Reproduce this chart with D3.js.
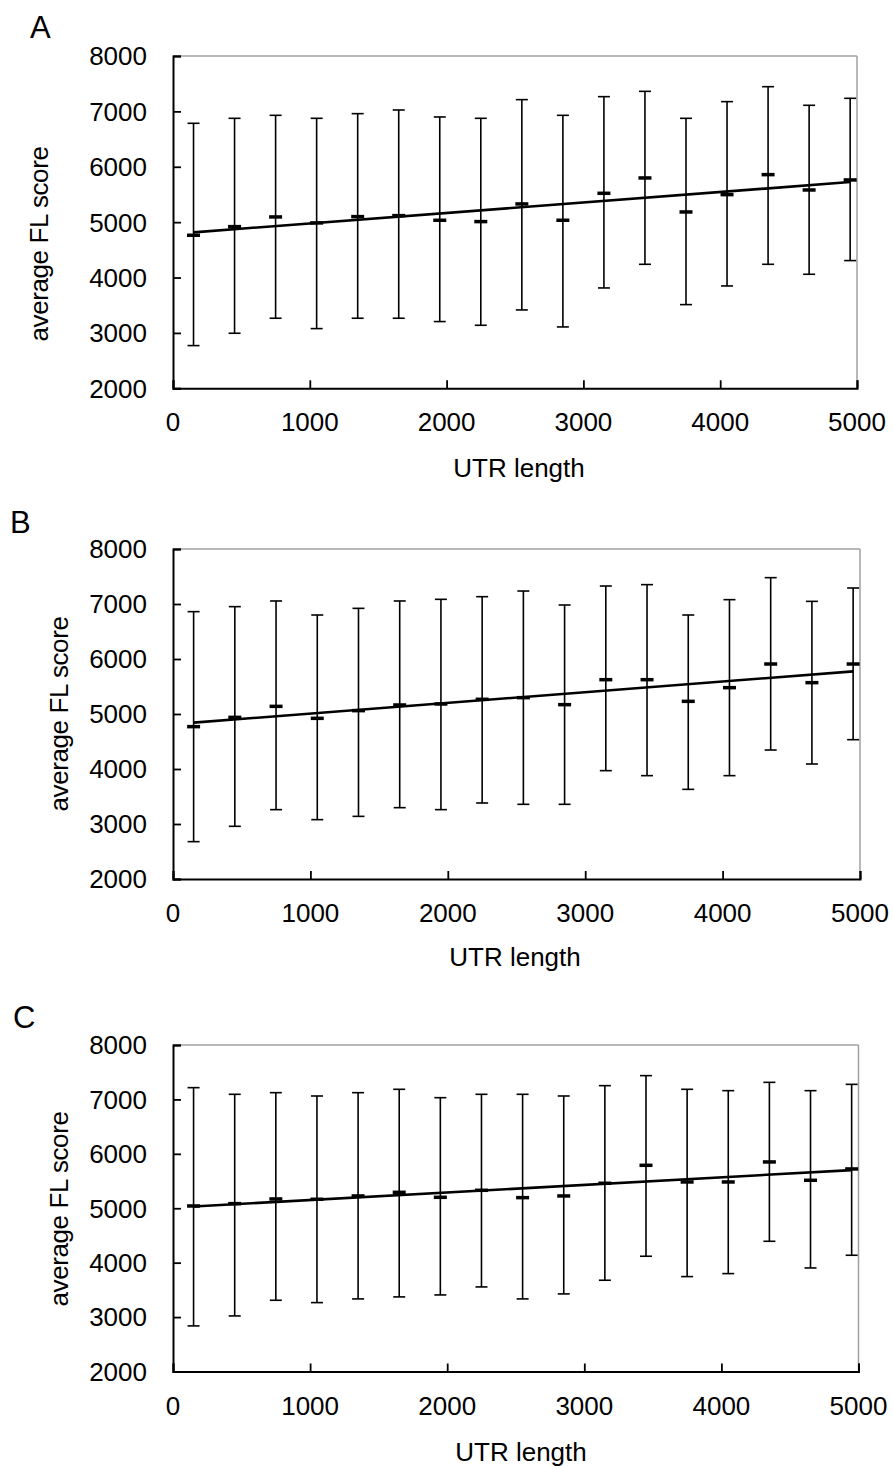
<!DOCTYPE html>
<html>
<head>
<meta charset="utf-8">
<script src="https://cdnjs.cloudflare.com/ajax/libs/d3/7.8.5/d3.min.js"></script>
<style>
  html, body { margin: 0; padding: 0; background: #fff; }
  svg { display: block; }
  text { font-family: "Liberation Sans", Arial, sans-serif; fill: #000; }
</style>
</head>
<body>
<svg id="chart" width="893" height="1467"></svg>
<script>
// ---------- DATA ----------
const utrBins = [150, 450, 750, 1050, 1350, 1650, 1950, 2250, 2550, 2850, 3150, 3450, 3750, 4050, 4350, 4650, 4950];

const meanA  = [4763, 4919, 5094, 4986, 5100, 5118, 5034, 5010, 5329, 5034, 5521, 5798, 5184, 5497, 5858, 5581, 5762];
const upperA = [6785, 6875, 6929, 6875, 6959, 7025, 6899, 6875, 7212, 6929, 7266, 7362, 6875, 7176, 7446, 7110, 7236];
const lowerA = [2771, 2994, 3265, 3078, 3265, 3265, 3205, 3138, 3415, 3108, 3812, 4239, 3511, 3848, 4239, 4059, 4306];

const meanB  = [4770, 4939, 5139, 4921, 5061, 5164, 5182, 5267, 5297, 5170, 5624, 5624, 5230, 5479, 5909, 5570, 5909];
const upperB = [6861, 6952, 7055, 6800, 6921, 7055, 7085, 7133, 7236, 6982, 7327, 7352, 6800, 7079, 7479, 7048, 7291];
const lowerB = [2679, 2958, 3261, 3079, 3139, 3297, 3261, 3382, 3358, 3358, 3970, 3879, 3630, 3879, 4345, 4091, 4533];

const meanC  = [5042, 5085, 5171, 5165, 5226, 5293, 5201, 5330, 5195, 5226, 5459, 5789, 5483, 5483, 5851, 5514, 5722];
const upperC = [7216, 7094, 7124, 7063, 7124, 7186, 7032, 7094, 7094, 7063, 7253, 7437, 7186, 7161, 7314, 7161, 7277];
const lowerC = [2838, 3021, 3309, 3266, 3334, 3371, 3407, 3554, 3334, 3426, 3677, 4118, 3744, 3799, 4393, 3903, 4136];

const panelLetters = ["A", "B", "C"];
const xTickValues = [0, 1000, 2000, 3000, 4000, 5000];
const yTickValues = [2000, 3000, 4000, 5000, 6000, 7000, 8000];
const xTitle = "UTR length";
const yTitle = "average FL score";

// ---------- LAYOUT ----------
const panels = [
  { letter: panelLetters[0], mean: meanA, upper: upperA, lower: lowerA,
    left: 173, right: 857, top: 56, bottom: 388.3,
    letterX: 30, letterY: 38, yLabX: 48, yLabY: 244, xLabX: 519, xLabY: 477 },
  { letter: panelLetters[1], mean: meanB, upper: upperB, lower: lowerB,
    left: 173, right: 860, top: 549, bottom: 879,
    letterX: 10, letterY: 533, yLabX: 68, yLabY: 714, xLabX: 515, xLabY: 966 },
  { letter: panelLetters[2], mean: meanC, upper: upperC, lower: lowerC,
    left: 173, right: 858.5, top: 1045, bottom: 1371.5,
    letterX: 13, letterY: 1028, yLabX: 68, yLabY: 1209, xLabX: 521, xLabY: 1461 }
];

const svg = d3.select("#chart");

function linreg(xs, ys) {
  const n = xs.length;
  const mx = d3.mean(xs), my = d3.mean(ys);
  let sxy = 0, sxx = 0;
  for (let i = 0; i < n; i++) { sxy += (xs[i] - mx) * (ys[i] - my); sxx += (xs[i] - mx) ** 2; }
  const b = sxy / sxx;
  return { a: my - b * mx, b };
}

panels.forEach(p => {
  const g = svg.append("g");
  const x = d3.scaleLinear().domain([0, 5000]).range([p.left, p.right]);
  const y = d3.scaleLinear().domain([2000, 8000]).range([p.bottom, p.top]);

  // grey frame (top and right)
  g.append("line").attr("x1", p.left).attr("x2", p.right).attr("y1", p.top).attr("y2", p.top)
    .attr("stroke", "#a0a0a0").attr("stroke-width", 1.5);
  g.append("line").attr("x1", p.right).attr("x2", p.right).attr("y1", p.top).attr("y2", p.bottom)
    .attr("stroke", "#a0a0a0").attr("stroke-width", 1.5);

  // axes with inward ticks
  const xAxis = d3.axisBottom(x).tickValues(xTickValues).tickSize(-8).tickPadding(0).tickFormat("");
  const yAxis = d3.axisLeft(y).tickValues(yTickValues).tickSize(-8).tickPadding(0).tickFormat("");
  const gx = g.append("g").attr("transform", `translate(0,${p.bottom})`).call(xAxis);
  const gy = g.append("g").attr("transform", `translate(${p.left},0)`).call(yAxis);
  [gx, gy].forEach(a => {
    a.select(".domain").attr("stroke", "#000").attr("stroke-width", 2);
    a.selectAll(".tick line").attr("stroke", "#000").attr("stroke-width", 1.8);
  });

  // tick labels
  g.selectAll(".xlab").data(xTickValues).enter().append("text")
    .attr("x", d => x(d)).attr("y", p.bottom + 43)
    .attr("text-anchor", "middle").attr("font-size", 26).text(d => d);
  g.selectAll(".ylab").data(yTickValues).enter().append("text")
    .attr("x", p.left - 26).attr("y", d => y(d)).attr("dy", "0.36em")
    .attr("text-anchor", "end").attr("font-size", 26).text(d => d);

  // axis titles
  g.append("text").attr("x", p.xLabX).attr("y", p.xLabY)
    .attr("text-anchor", "middle").attr("font-size", 26).text(xTitle);
  g.append("text").attr("transform", `translate(${p.yLabX},${p.yLabY}) rotate(-90)`)
    .attr("text-anchor", "middle").attr("font-size", 26).attr("letter-spacing", -0.4).text(yTitle);

  // panel letter
  g.append("text").attr("x", p.letterX).attr("y", p.letterY)
    .attr("font-size", 31).text(p.letter);

  // error bars
  const rows = utrBins.map((b, i) => ({ b, m: p.mean[i], hi: p.upper[i], lo: p.lower[i] }));
  const eb = g.append("g").attr("stroke", "#000").attr("fill", "none");
  eb.selectAll(".v").data(rows).enter().append("line")
    .attr("x1", d => x(d.b)).attr("x2", d => x(d.b))
    .attr("y1", d => y(d.hi)).attr("y2", d => y(d.lo)).attr("stroke-width", 1.6);
  eb.selectAll(".ct").data(rows).enter().append("line")
    .attr("x1", d => x(d.b) - 6).attr("x2", d => x(d.b) + 6)
    .attr("y1", d => y(d.hi)).attr("y2", d => y(d.hi)).attr("stroke-width", 1.6);
  eb.selectAll(".cb").data(rows).enter().append("line")
    .attr("x1", d => x(d.b) - 6).attr("x2", d => x(d.b) + 6)
    .attr("y1", d => y(d.lo)).attr("y2", d => y(d.lo)).attr("stroke-width", 1.6);

  // linear trendline (least squares of the plotted means)
  const r = linreg(utrBins, p.mean);
  const ext = d3.extent(utrBins);
  g.append("path")
    .datum(ext)
    .attr("d", d3.line().x(d => x(d)).y(d => y(r.a + r.b * d)))
    .attr("stroke", "#000").attr("stroke-width", 2.6).attr("fill", "none");

  // mean markers (short thick dashes)
  g.selectAll(".m").data(rows).enter().append("line")
    .attr("x1", d => x(d.b) - 6.5).attr("x2", d => x(d.b) + 6.5)
    .attr("y1", d => y(d.m)).attr("y2", d => y(d.m))
    .attr("stroke", "#000").attr("stroke-width", 3.5);
});
</script>
</body>
</html>
